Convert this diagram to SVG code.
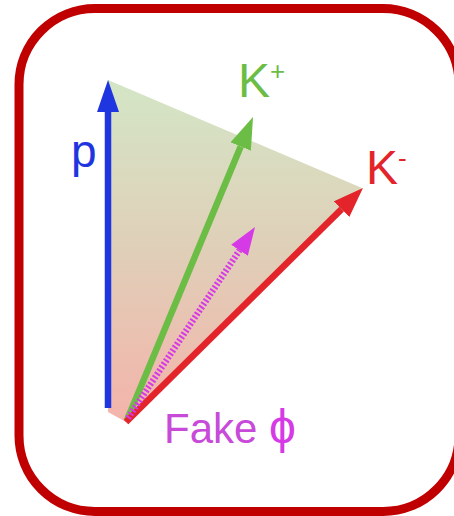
<svg xmlns="http://www.w3.org/2000/svg" width="454" height="516" viewBox="0 0 454 516">
<defs>
<linearGradient id="fillg" x1="0" y1="80" x2="0" y2="422" gradientUnits="userSpaceOnUse">
<stop offset="0" stop-color="#d3e6c6"/>
<stop offset="0.5" stop-color="#e0cfb8"/>
<stop offset="1" stop-color="#f4b3ab"/>
</linearGradient>
<marker id="hb" markerUnits="userSpaceOnUse" markerWidth="32" markerHeight="22" refX="0" refY="11" orient="auto"><path d="M0,0 L32,11 L0,22 z" fill="#1f35e0"/></marker>
<marker id="hg" markerUnits="userSpaceOnUse" markerWidth="32" markerHeight="22" refX="0" refY="11" orient="auto"><path d="M0,0 L32,11 L0,22 z" fill="#6cbd45"/></marker>
<marker id="hr" markerUnits="userSpaceOnUse" markerWidth="30" markerHeight="22" refX="0" refY="11" orient="auto"><path d="M0,0 L30,11 L0,22 z" fill="#e3242b"/></marker>
<marker id="hm" markerUnits="userSpaceOnUse" markerWidth="28" markerHeight="20" refX="0" refY="10" orient="auto"><path d="M0,0 L28,10 L0,20 z" fill="#d63ae6"/></marker>
</defs>
<style>
.lbl{font-family:"Liberation Sans",Arial,sans-serif}
.vec{fill:none;stroke-width:6.5}
</style>
<rect x="19" y="8.5" width="440" height="503" rx="76" ry="76" fill="#ffffff" stroke="#c00000" stroke-width="9"/>
<polygon points="108,80 362,188 126,422 108,412" fill="url(#fillg)"/>
<g id="connectors">
<line class="vec" x1="108" y1="408" x2="108" y2="112" stroke="#1f35e0" marker-end="url(#hb)"/>
<line class="vec" x1="127" y1="420" x2="240.7" y2="146.5" stroke="#6cbd45" marker-end="url(#hg)"/>
<line class="vec" x1="126" y1="422" x2="341.6" y2="209.1" stroke="#e3242b" marker-end="url(#hr)"/>
<line class="vec" x1="128" y1="418" x2="239.5" y2="250.3" stroke="#d63ae6" stroke-dasharray="2 2" marker-end="url(#hm)"/>
</g>
<g id="p"><text class="lbl" x="71" y="167" font-size="46" fill="#1f35e0">p</text></g>
<g id="Kplus"><text class="lbl" x="238" y="97" font-size="48" fill="#6cbd45">K<tspan font-size="26" dy="-17">+</tspan></text></g>
<g id="Kminus"><text class="lbl" x="366" y="184" font-size="48" fill="#e3242b">K<tspan font-size="26" dy="-17">-</tspan></text></g>
<g id="fakephi"><text class="lbl" x="164" y="443" font-size="42" fill="#c84ad8">Fake <tspan font-size="48" fill="#d63ae6">ϕ</tspan></text></g>
</svg>
